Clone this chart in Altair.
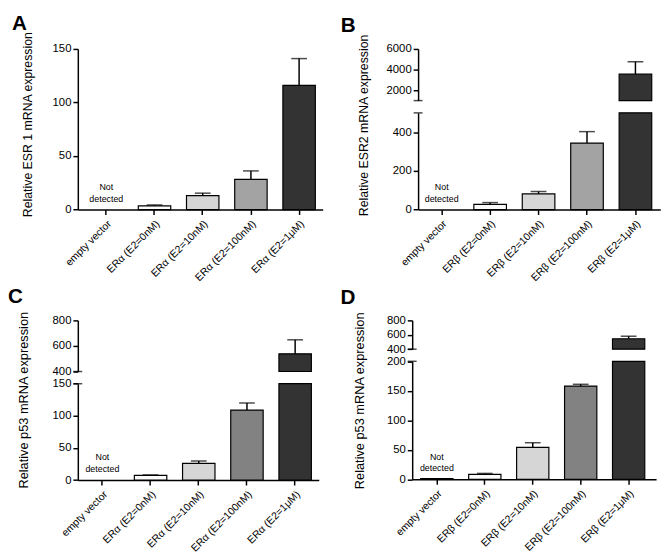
import altair as alt
import pandas as pd

FONT = "Liberation Sans"

cats_alpha = ["empty vector", "ERα (E2=0nM)", "ERα (E2=10nM)", "ERα (E2=100nM)", "ERα (E2=1μM)"]
cats_beta = ["empty vector", "ERβ (E2=0nM)", "ERβ (E2=10nM)", "ERβ (E2=100nM)", "ERβ (E2=1μM)"]

esr1_mean = [0, 3.4, 13, 28.2, 116]
esr1_err = [0, 4.3, 15.3, 36.1, 141]
esr2_mean = [0, 27, 81, 344, 3560]
esr2_err = [0, 36, 93, 403, 4760]
p53a_mean = [0, 7.2, 26, 109, 538]
p53a_err = [0, 8, 29.6, 120, 648]
p53b_mean = [1, 8.3, 54, 158, 545]
p53b_err = [1, 10, 62, 161, 580]

fill_ab = ["#ffffff", "#fbfbfb", "#d6d6d6", "#a3a3a3", "#333333"]
fill_cd = ["#ffffff", "#fbfbfb", "#d6d6d6", "#828282", "#333333"]

nd_label = ["Not", "detected"]


def panel(letter, cats, means, errs, fills, ytitle, tfs, segs, W, H, po, al,
          tx, ty, ldx, loff):
    df = pd.DataFrame({"cat": cats, "v": means, "e": errs, "f": fills})
    x = alt.X("cat:N", sort=cats, title=None,
              scale=alt.Scale(paddingInner=0.327, paddingOuter=po, align=al),
              axis=alt.Axis(labelAngle=-45, labelFontSize=10.6, labelPadding=4,
                            labelColor="black"))
    seg_layers = []
    for i, (lo, hi, r0, r1, ticks) in enumerate(segs):
        bottom = i == 0
        sc = alt.Scale(domain=[lo, hi], range=[r0, r1], nice=False, zero=False)
        if bottom:
            ax = alt.Axis(values=ticks, orient="left", title=ytitle, format="d",
                          titleX=tx, titleY=ty, titleAngle=270, titleFontSize=tfs,
                          titleBaseline="middle", titleAlign="center")
        else:
            ax = alt.Axis(values=ticks, orient="left", title=None, format="d")
        ytitle_enc = ytitle if bottom else None
        base = alt.Chart(df)
        bars = base.transform_filter(f"datum.v > {lo}").transform_calculate(
            top=f"min(datum.v, {hi})", bot=f"{lo}"
        ).mark_bar(stroke="black", strokeWidth=1.2).encode(
            x=x,
            y=alt.Y("top:Q", scale=sc, axis=ax, title=ytitle_enc),
            y2="bot:Q",
            fill=alt.Fill("f:N", scale=None),
        )
        err = base.transform_filter(
            f"datum.v > {lo} && datum.v <= {hi} && datum.e > datum.v")
        rule = err.mark_rule(color="black", strokeWidth=1.5).encode(
            x=x, y=alt.Y("v:Q", scale=sc, axis=ax, title=ytitle_enc), y2="e:Q")
        cap = err.mark_tick(color="black", thickness=1.5, size=16,
                            orient="horizontal").encode(
            x=x, y=alt.Y("e:Q", scale=sc, axis=ax, title=ytitle_enc))
        parts = [bars, rule, cap]
        if len(segs) > 1:
            edge = hi if bottom else lo
            brk = alt.Chart(pd.DataFrame({"b": [edge]})).mark_tick(
                color="black", thickness=1.5, size=9, orient="horizontal"
            ).encode(x=alt.value(0),
                     y=alt.Y("b:Q", scale=sc, axis=ax, title=ytitle_enc))
            parts.append(brk)
        if bottom:
            nd = alt.Chart(pd.DataFrame({"cat": [cats[0]], "z": [lo],
                                         "t": ["\n".join(nd_label)]})).mark_text(
                lineBreak="\n", fontSize=9, font=FONT, baseline="alphabetic",
                dy=-20, lineHeight=12, color="black"
            ).encode(x=x, y=alt.Y("z:Q", scale=sc, axis=ax, title=ytitle_enc),
                     text="t:N")
            parts.append(nd)
        seg_layers.append(alt.layer(*parts))
    ch = alt.layer(*seg_layers)
    if len(segs) > 1:
        ch = ch.resolve_scale(y="independent")
    return ch.properties(
        width=W, height=H,
        title=alt.TitleParams(letter, anchor="start", frame="group", fontSize=21,
                              fontWeight="bold", dx=ldx, offset=loff, font=FONT,
                              color="black"),
    )


pA = panel("A", cats_alpha, esr1_mean, esr1_err, fill_ab,
           "Relative  ESR 1 mRNA expression", 12.5,
           [(0, 150, 163.3, 0, [0, 50, 100, 150])],
           249, 163.3, 0.204, 0.625, -51, 76.5, -67, -4)
pB = panel("B", cats_beta, esr2_mean, esr2_err, fill_ab,
           "Relative  ESR2 mRNA expression", 12.5,
           [(0, 500, 163.3, 65, [0, 200, 400]),
            (1000, 6000, 52.5, 0, [2000, 4000, 6000])],
           246.3, 163.3, 0.164, 0.46, -55.7, 77.3, -78.7, -4)
pC = panel("C", cats_alpha, p53a_mean, p53a_err, fill_cd,
           "Relative p53 mRNA expression", 13,
           [(0, 150, 162.4, 64.4, [0, 50, 100, 150]),
            (400, 800, 52, 0, [400, 600, 800])],
           245, 162.4, 0.1635, 0.53, -55.5, 80.7, -71, 4)
pD = panel("D", cats_beta, p53b_mean, p53b_err, fill_cd,
           "Relative p53 mRNA expression", 13,
           [(0, 200, 161.6, 41.6, [0, 50, 100, 150, 200]),
            (400, 800, 29.3, 0, [400, 600, 800])],
           248, 161.6, 0.207, 0.43, -53.7, 81.3, -73, 4)

chart = alt.vconcat(
    alt.hconcat(pA, pB, spacing=18),
    alt.hconcat(pC, pD, spacing=22),
    spacing=2,
).properties(
    padding={"left": 0, "top": 0, "right": 0, "bottom": 0}
).configure_view(stroke=None).configure_axis(
    domainColor="black", domainWidth=1.5, tickColor="black", tickWidth=1.5,
    tickSize=5, labelColor="black", labelFont=FONT, titleFont=FONT,
    labelFontSize=11.5, titleFontSize=13, titleFontWeight="normal",
    titleColor="black", grid=False, labelPadding=2,
).configure_title(font=FONT, color="black")

chart.save("out.html", embed_options={"renderer": "svg", "actions": False})
